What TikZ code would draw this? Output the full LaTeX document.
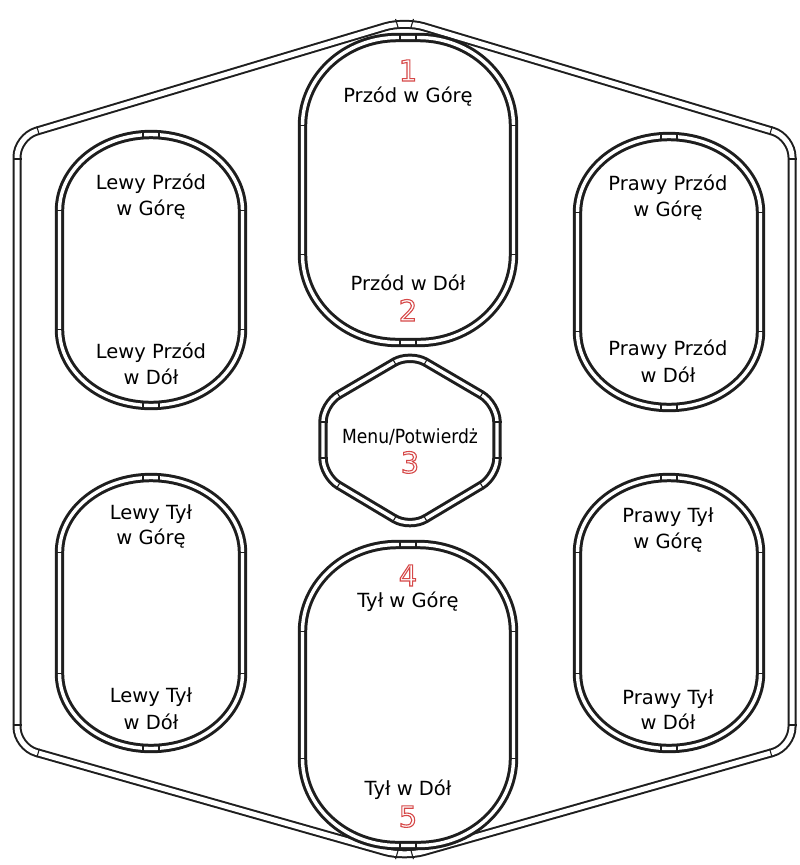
\documentclass[tikz,border=0pt]{standalone}
\usepackage{fontspec}
\setmainfont{DejaVu Sans}
\usepackage{graphicx}
\usetikzlibrary{calc}
\definecolor{digred}{RGB}{214,72,72}
\definecolor{ink}{RGB}{30,30,30}
\newcommand\hollow[1]{\special{pdf:literal direct 1 Tr 1.1 w}#1\special{pdf:literal direct 0 Tr}}
\tikzset{
  btnline/.style={draw=ink, line width=3pt, double=white, double distance=3.4pt},
  rimline/.style={draw=ink, line width=2pt, double=white, double distance=5pt},
  tickst/.style={draw=ink, line width=1.1pt},
  lbl/.style={font=\fontsize{19.5}{22}\selectfont, text=black, inner sep=0pt, anchor=base},
  num/.style={font=\fontsize{29}{30}\selectfont, text=digred, inner sep=0pt, anchor=base},
}
% rounded button: x1,y1,x2,y2,rx,ry (middle of the double line)
\newcommand\btn[6]{%
  \draw[btnline] (#1,{#2+#6}) arc[start angle=180,end angle=270,x radius=#5,y radius=#6]
    -- ({#3-#5},#2) arc[start angle=270,end angle=360,x radius=#5,y radius=#6]
    -- (#3,{#4-#6}) arc[start angle=0,end angle=90,x radius=#5,y radius=#6]
    -- ({#1+#5},#4) arc[start angle=90,end angle=180,x radius=#5,y radius=#6] -- cycle;
  \foreach \yy in {#2+#6,#4-#6}{
    \draw[tickst] ({#1-4.5},{\yy}) -- ({#1+4.5},{\yy});
    \draw[tickst] ({#3-4.5},{\yy}) -- ({#3+4.5},{\yy});
  }
  \foreach \dx in {-8,8}{
    \draw[tickst] ({(#1+#3)/2+\dx},{#2-4.5}) -- ({(#1+#3)/2+\dx},{#2+4.5});
    \draw[tickst] ({(#1+#3)/2+\dx},{#4-4.5}) -- ({(#1+#3)/2+\dx},{#4+4.5});
  }
}
% tick across a line, at distance #3 from #1 towards #2
\newcommand\tk[3]{%
  \path ($(#1)!#3!(#2)$) coordinate (tka);
  \draw[tickst] ($(tka)!4.5pt!90:(#2)$) -- ($(tka)!4.5pt!-90:(#2)$);
}
\begin{document}
\begin{tikzpicture}[x=1pt,y=-1pt]
\fill[white] (0,0) rectangle (800,865);
\useasboundingbox (0,0) rectangle (800,865);

% outer rim
\coordinate (bT) at (404.5,21);
\coordinate (bTR) at (792,137);
\coordinate (bBR) at (792,747);
\coordinate (bB) at (404.5,857);
\coordinate (bBL) at (17,747);
\coordinate (bTL) at (17,137);
\draw[rimline, rounded corners=20pt] (bT) -- (bTR) -- (bBR) -- (bB) -- (bBL) -- (bTL) -- cycle;
\tk{bTL}{bT}{22pt} \tk{bTL}{bBL}{22pt}
\tk{bTR}{bT}{22pt} \tk{bTR}{bBR}{22pt}
\tk{bBL}{bTL}{22pt} \tk{bBL}{bB}{22pt}
\tk{bBR}{bTR}{22pt} \tk{bBR}{bB}{22pt}
\tk{bT}{bTL}{8pt} \tk{bT}{bTR}{8pt}
\tk{bB}{bBL}{8pt} \tk{bB}{bBR}{8pt}

% centre buttons
\btn{302.5}{37.5}{513.5}{342.5}{95}{88}
\btn{302.5}{544.5}{513.5}{845.5}{95}{87}

% side buttons
\btn{59.5}{134.5}{242.5}{405.5}{91.5}{76}
\btn{59.5}{477.5}{242.5}{748.5}{91.5}{75}
\btn{577.5}{136.5}{760.5}{407.5}{91.5}{76}
\btn{577.5}{477.5}{760.5}{748.5}{91.5}{75}

% hexagon button
\coordinate (hT) at (410,353);
\coordinate (hUR) at (497,404);
\coordinate (hLR) at (497,476);
\coordinate (hB) at (410,528);
\coordinate (hLL) at (323,476);
\coordinate (hUL) at (323,404);
\draw[btnline, rounded corners=18pt] (hT) -- (hUR) -- (hLR) -- (hB) -- (hLL) -- (hUL) -- cycle;
\tk{hT}{hUL}{18pt} \tk{hT}{hUR}{18pt}
\tk{hUR}{hT}{18pt} \tk{hUR}{hLR}{18pt}
\tk{hLR}{hUR}{18pt} \tk{hLR}{hB}{18pt}
\tk{hB}{hLR}{18pt} \tk{hB}{hLL}{18pt}
\tk{hLL}{hB}{18pt} \tk{hLL}{hUL}{18pt}
\tk{hUL}{hLL}{18pt} \tk{hUL}{hT}{18pt}

% centre labels
\node[num] (n1) at (408,81) {\hollow{1}};
\node[lbl] (t1) at (408,102) {Przód w Górę};
\node[lbl] (t2) at (408,290) {Przód w Dół};
\node[num] (n2) at (408,321) {\hollow{2}};
\node[lbl] (t3) at (410,443) {\scalebox{0.88}[1]{Menu/Potwierdż}};
\node[num] (n3) at (410,473) {\hollow{3}};
\node[num] (n4) at (408,586) {\hollow{4}};
\node[lbl] (t4) at (408,607) {Tył w Górę};
\node[lbl] (t5) at (408,795) {Tył w Dół};
\node[num] (n5) at (408,827) {\hollow{5}};

% left labels
\node[lbl] (lpu1) at (151,189) {Lewy Przód};
\node[lbl] (lpu2) at (151,215) {w Górę};
\node[lbl] (lpd1) at (151,358) {Lewy Przód};
\node[lbl] (lpd2) at (151,384) {w Dół};
\node[lbl] (ltu1) at (151,519) {Lewy Tył};
\node[lbl] (ltu2) at (151,544) {w Górę};
\node[lbl] (ltd1) at (151,702) {Lewy Tył};
\node[lbl] (ltd2) at (151,729) {w Dół};

% right labels
\node[lbl] (rpu1) at (668,190) {Prawy Przód};
\node[lbl] (rpu2) at (668,216.5) {w Górę};
\node[lbl] (rpd1) at (668,355) {Prawy Przód};
\node[lbl] (rpd2) at (668,382) {w Dół};
\node[lbl] (rtu1) at (668,522) {Prawy Tył};
\node[lbl] (rtu2) at (668,548) {w Górę};
\node[lbl] (rtd1) at (668,704) {Prawy Tył};
\node[lbl] (rtd2) at (668,729) {w Dół};
\end{tikzpicture}
\end{document}
